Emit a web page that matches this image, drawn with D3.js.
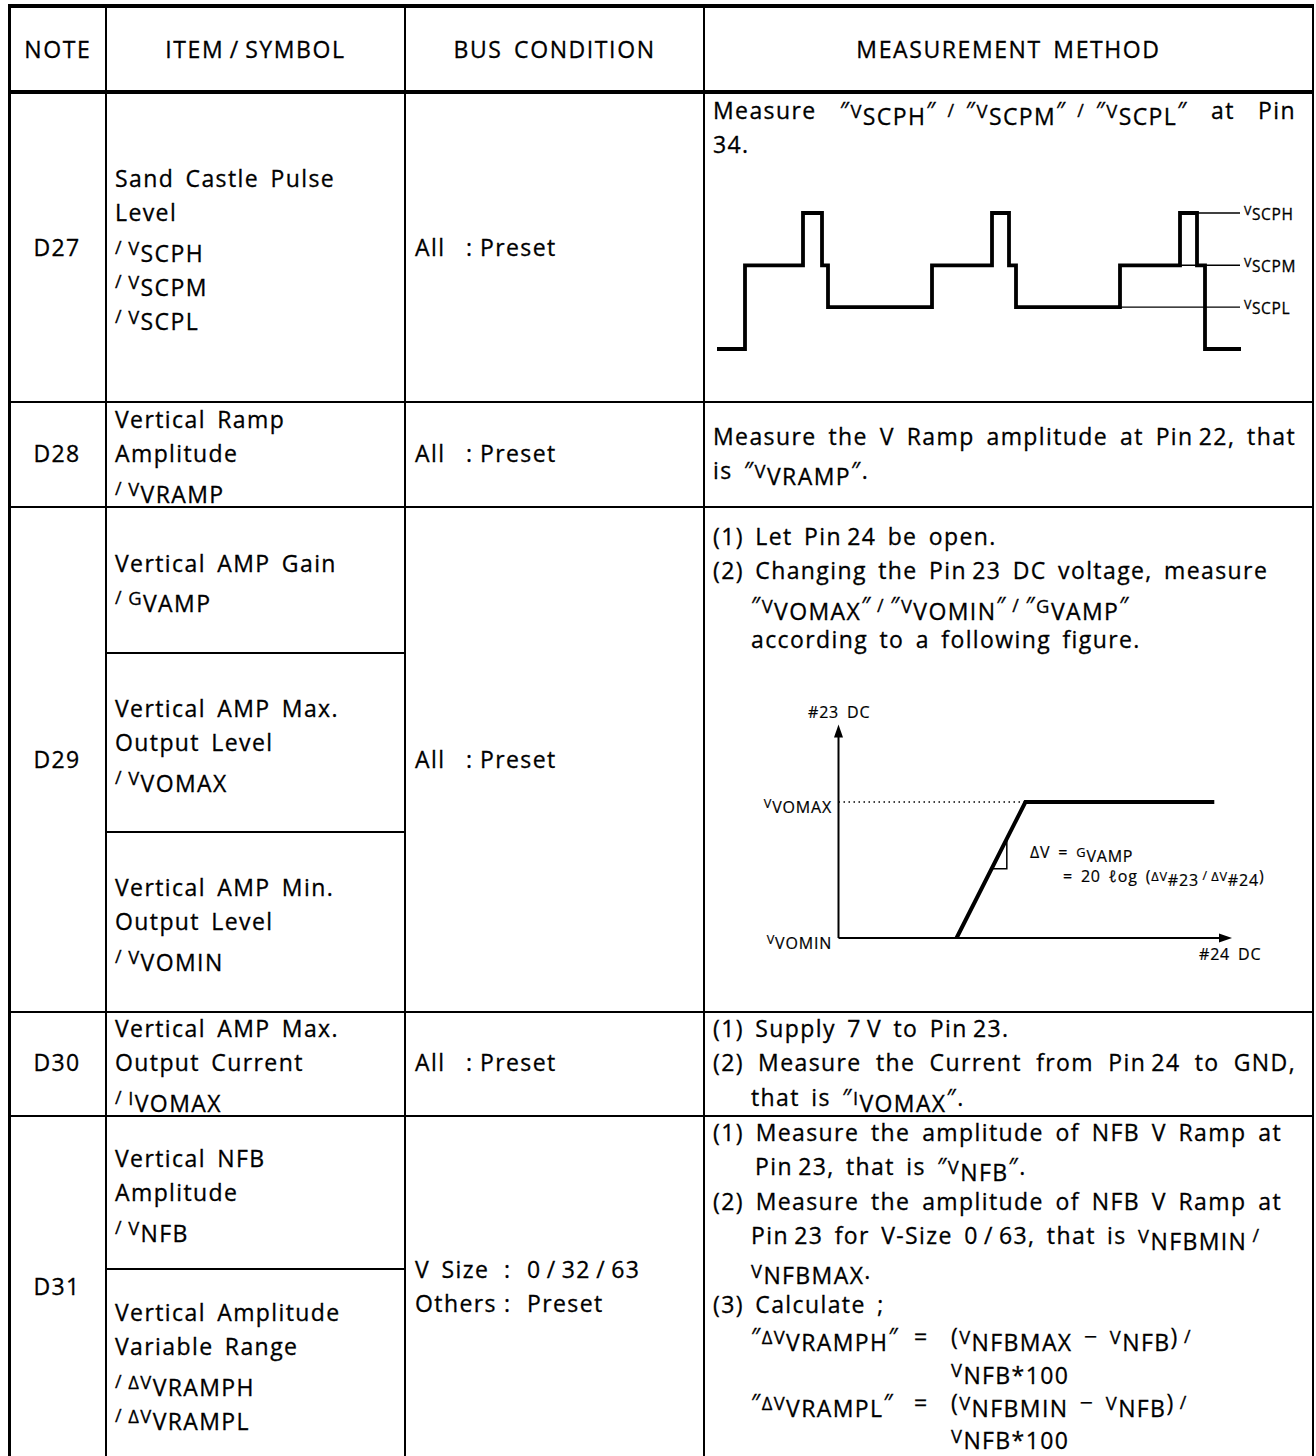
<!DOCTYPE html>
<html>
<head>
<meta charset="utf-8">
<script src="https://cdn.jsdelivr.net/npm/d3@7"></script>
<style>
body { margin: 0; background: #fff; }
svg text { font-family: "Open Sans", sans-serif; fill: #000; stroke: #000; stroke-width: 0.3px; letter-spacing: 1.4px; word-spacing: 4px; }
</style>
</head>
<body>
<svg id="chart" width="1316" height="1456"></svg>
<script>
// ---- table content ----
var headers = ["NOTE", "ITEM\u2009/\u2009SYMBOL", "BUS CONDITION", "MEASUREMENT METHOD"]
var notes = ["D27", "D28", "D29", "D30", "D31"]
var items = [
    ["Sand Castle Pulse", "Level", "{/}\u2009{V|SCPH}", "{/}\u2009{V|SCPM}", "{/}\u2009{V|SCPL}"],
    ["Vertical Ramp", "Amplitude", "{/}\u2009{V|VRAMP}"],
    ["Vertical AMP Gain", "{/}\u2009{G|VAMP}"],
    ["Vertical AMP Max.", "Output Level", "{/}\u2009{V|VOMAX}"],
    ["Vertical AMP Min.", "Output Level", "{/}\u2009{V|VOMIN}"],
    ["Vertical AMP Max.", "Output Current", "{/}\u2009{I|VOMAX}"],
    ["Vertical NFB", "Amplitude", "{/}\u2009{V|NFB}"],
    ["Vertical Amplitude", "Variable Range", "{/}\u2009{ΔV|VRAMPH}", "{/}\u2009{ΔV|VRAMPL}"]
]
var bus = [
    [["All", "Preset"]],
    [["All", "Preset"]],
    [["All", "Preset"]],
    [["All", "Preset"]],
    [["V Size", "0\u2009/\u200932\u2009/\u200963"], ["Others", "Preset"]]
]
// method lines: [indent, text, justify-to (0 = none)]
var method = [
    [[0, "Measure ″{V|SCPH}″\u2009\u2009{/}\u2009\u2009″{V|SCPM}″\u2009\u2009{/}\u2009\u2009″{V|SCPL}″ at Pin", 1296], [0, "34.", 0]],
    [[0, "Measure the V Ramp amplitude at Pin\u200922, that", 1296], [0, "is ″{V|VRAMP}″.", 0]],
    [[0, "(1) Let Pin\u200924 be open.", 0],
     [0, "(2) Changing the Pin\u200923 DC voltage, measure", 0],
     [1, "″{V|VOMAX}″\u2009{/}\u2009″{V|VOMIN}″\u2009{/}\u2009″{G|VAMP}″", 0],
     [1, "according to a following figure.", 0]],
    [[0, "(1) Supply 7\u2009V to Pin\u200923.", 0],
     [0, "(2) Measure the Current from Pin\u200924 to GND,", 1296],
     [1, "that is ″{I|VOMAX}″.", 0]],
    [[0, "(1) Measure the amplitude of NFB V Ramp at", 1282],
     [2, "Pin\u200923, that is ″{V|NFB}″.", 0],
     [0, "(2) Measure the amplitude of NFB V Ramp at", 1282],
     [1, "Pin\u200923 for V-Size 0\u2009/\u200963, that is {V|NFBMIN}\u2009{/}", 0],
     [1, "{V|NFBMAX}.", 0],
     [0, "(3) Calculate ;", 0]]
]
var formulas = [
    ["″{ΔV|VRAMPH}″", "({V|NFBMAX} − {V|NFB})\u2009{/}", "{V|NFB*100}"],
    ["″{ΔV|VRAMPL}″", "({V|NFBMIN} − {V|NFB})\u2009{/}", "{V|NFB*100}"]
]

// ---- sand castle pulse waveform (time units, level keys) ----
var waveT = [0, 28, 86, 105, 111, 215, 275, 292, 299, 403, 463, 480, 488, 524]
var waveL = ["B", "M", "H", "M", "L", "M", "H", "M", "L", "M", "H", "M", "B", "B"]
var levelValue = { B: 0, L: 1.0, M: 2.0, H: 3.25 }
var levelLabels = [["H", "SCPH", 463], ["M", "SCPM", 463], ["L", "SCPL", 403]]

// ---- vertical amp transfer (#24 DC vs #23 DC) ----
var dc24 = [30, 47.5, 95.5]
var dc23 = [0, 1, 1]
var gainMark = [0.73, 0.51]

// ---- layout ----
var colX = [9.5, 106, 405, 704, 1313]
var rowY = [92, 402, 507, 1012, 1116]
var subRows = [653, 832, 1269]
var noteBase = [256, 462, 768, 1071, 1295]
var itemBase = [187, 428, 572, 717, 896, 1037, 1167, 1321]
var methodBase = [119, 445, 545, 1037, 1141]
var formulaBase = [1345, 1378, 1411, 1443.5]
var LH = 34.4
var FS = 23

var svg = d3.select("#chart")
svg.append("rect").attr("width", 1316).attr("height", 1456).attr("fill", "#fff")

function rich(g, str, x, y, size, anchor) {
    var t = g.append("text").attr("x", x).attr("y", y)
        .style("font-size", size + "px")
        .attr("text-anchor", anchor || "start")
    var cur = 0
    function span(txt, sz, off) {
        t.append("tspan").attr("dy", off - cur).style("font-size", sz + "px").text(txt)
        cur = off
    }
    str.split(/(\{[^}]*\})/).filter(s => s.length).forEach(function (p) {
        var m = p.match(/^\{([^|}]*)\|([^}]*)\}$/)
        if (m) {
            span(m[1], size * 0.8, -1)
            span(m[2], size, size * 0.25)
        } else if (p == "{/}") {
            span("/", size * 0.78, -2)
        } else {
            span(p, size, 0)
        }
    })
    return t
}
function justify(t, x, right) {
    var n = (t.text().match(/ /g) || []).length
    if (!n) return
    var w = t.node().getComputedTextLength()
    var ws = parseFloat(t.style("word-spacing")) || 0
    t.style("word-spacing", (ws + (right - x - w) / n) + "px")
}

// ---- grid ----
var grid = svg.append("g").attr("stroke", "#000").attr("fill", "none")
grid.append("line").attr("x1", 8).attr("x2", 1314).attr("y1", 6).attr("y2", 6).attr("stroke-width", 4)
grid.append("line").attr("x1", 8).attr("x2", 1314).attr("y1", rowY[0]).attr("y2", rowY[0]).attr("stroke-width", 4)
grid.selectAll(".row").data(rowY.slice(1)).enter().append("line")
    .attr("x1", 9).attr("x2", 1313).attr("y1", d => d).attr("y2", d => d).attr("stroke-width", 2)
grid.selectAll(".sub").data(subRows).enter().append("line")
    .attr("x1", colX[1]).attr("x2", colX[2]).attr("y1", d => d).attr("y2", d => d).attr("stroke-width", 2)
grid.selectAll(".col").data(colX).enter().append("line")
    .attr("x1", d => d).attr("x2", d => d).attr("y1", 4).attr("y2", 1456)
    .attr("stroke-width", (d, i) => i == 0 ? 3 : 2)

// ---- header ----
svg.selectAll(".hdr").data(headers).enter().append("text")
    .attr("x", (d, i) => (colX[i] + colX[i + 1]) / 2).attr("y", 58)
    .attr("text-anchor", "middle").style("font-size", FS + "px").style("letter-spacing", "1.6px")
    .text(d => d)

// ---- note column ----
svg.selectAll(".note").data(notes).enter().append("text")
    .attr("x", 57).attr("y", (d, i) => noteBase[i])
    .attr("text-anchor", "middle").style("font-size", FS + "px")
    .text(d => d)

// ---- item column ----
var itemG = svg.append("g")
items.forEach(function (lines, i) {
    lines.forEach(function (s, k) { rich(itemG, s, 115, itemBase[i] + k * LH, FS) })
})

// ---- bus condition ----
var busG = svg.append("g")
bus.forEach(function (rows, i) {
    var wide = rows.length > 1
    rows.forEach(function (r, k) {
        var y = wide ? 1278 + k * LH : noteBase[i]
        busG.append("text").attr("x", 415).attr("y", y).style("font-size", FS + "px").text(r[0])
        busG.append("text").attr("x", wide ? 504 : 466).attr("y", y).style("font-size", FS + "px").text(":")
        busG.append("text").attr("x", wide ? 527 : 480).attr("y", y).style("font-size", FS + "px").text(r[1])
    })
})

// ---- measurement method ----
var methG = svg.append("g")
var indentX = [713, 751, 755]
method.forEach(function (lines, i) {
    lines.forEach(function (l, k) {
        var x = indentX[l[0]]
        var t = rich(methG, l[1], x, methodBase[i] + k * LH, FS)
        if (l[2]) justify(t, x, l[2])
    })
})
formulas.forEach(function (f, i) {
    var y = formulaBase[2 * i]
    rich(methG, f[0], 751, y, FS)
    methG.append("text").attr("x", 914).attr("y", y).style("font-size", FS + "px").text("=")
    rich(methG, f[1], 951, y, FS)
    rich(methG, f[2], 951, formulaBase[2 * i + 1], FS)
})

// ---- D27 waveform ----
var wx = d3.scaleLinear().domain([0, 524]).range([717, 1241])
var wy = d3.scaleLinear().domain([0, 3.25]).range([349, 213])
var wave = waveT.map((t, i) => [t, levelValue[waveL[i]]])
var waveG = svg.append("g")
waveG.selectAll(".lvl").data(levelLabels).enter().append("line")
    .attr("x1", d => wx(d[2])).attr("x2", 1240)
    .attr("y1", d => wy(levelValue[d[0]])).attr("y2", d => wy(levelValue[d[0]]))
    .attr("stroke", "#000").attr("stroke-width", 1.4)
waveG.append("path")
    .attr("d", d3.line().x(d => wx(d[0])).y(d => wy(d[1])).curve(d3.curveStepAfter)(wave))
    .attr("fill", "none").attr("stroke", "#000").attr("stroke-width", 3.8)
levelLabels.forEach(function (d) {
    rich(waveG, "{V|" + d[1] + "}", 1244, wy(levelValue[d[0]]) + 3, 15.5).style("letter-spacing", "0.6px")
})

// ---- D29 transfer graph ----
var gx = d3.scaleLinear().domain([0, 100]).range([838.5, 1232])
var gy = d3.scaleLinear().domain([0, 1]).range([938, 802])
var gG = svg.append("g")
var yTop = gy(1.57), xEnd = gx(100)
gG.append("line").attr("x1", gx(0)).attr("x2", gx(0)).attr("y1", gy(0)).attr("y2", yTop + 8)
    .attr("stroke", "#000").attr("stroke-width", 2)
gG.append("line").attr("x1", gx(0)).attr("x2", xEnd - 8).attr("y1", gy(0)).attr("y2", gy(0))
    .attr("stroke", "#000").attr("stroke-width", 2)
gG.append("path").attr("d", `M${gx(0)},${yTop}l-4.5,13h9z`).attr("fill", "#000")
gG.append("path").attr("d", `M${xEnd},${gy(0)}l-13,-4.5v9z`).attr("fill", "#000")
gG.append("line").attr("x1", gx(0)).attr("x2", gx(dc24[1])).attr("y1", gy(1)).attr("y2", gy(1))
    .attr("stroke", "#000").attr("stroke-width", 1.5).attr("stroke-dasharray", "1.5,3.5")
gG.append("path")
    .attr("d", d3.line().x(d => gx(d[0])).y(d => gy(d[1]))(dc24.map((v, i) => [v, dc23[i]])))
    .attr("fill", "none").attr("stroke", "#000").attr("stroke-width", 4).attr("stroke-linejoin", "miter")
var onRamp = v => dc24[0] + v * (dc24[1] - dc24[0])
gG.append("path")
    .attr("d", d3.line().x(d => gx(d[0])).y(d => gy(d[1]))([
        [onRamp(gainMark[0]), gainMark[0]], [onRamp(gainMark[0]), gainMark[1]], [onRamp(gainMark[1]), gainMark[1]]]))
    .attr("fill", "none").attr("stroke", "#000").attr("stroke-width", 1.5)
var small = [
    gG.append("text").attr("x", 808).attr("y", 718).style("font-size", "16px").text("#23 DC"),
    gG.append("text").attr("x", 1199).attr("y", 960).style("font-size", "16px").text("#24 DC"),
    rich(gG, "{V|VOMAX}", 832, gy(1) + 7, 16, "end"),
    rich(gG, "{V|VOMIN}", 832, gy(0) + 7, 16, "end"),
    rich(gG, "ΔV  = {G|VAMP}", 1030, 858, 16),
    rich(gG, "= 20 ℓog ({ΔV|#23}\u2009{/}\u2009{ΔV|#24})", 1063, 882, 16)
]
small.forEach(t => t.style("letter-spacing", "0.8px").style("word-spacing", "3px").style("stroke-width", "0.2px"))
</script>
</body>
</html>
